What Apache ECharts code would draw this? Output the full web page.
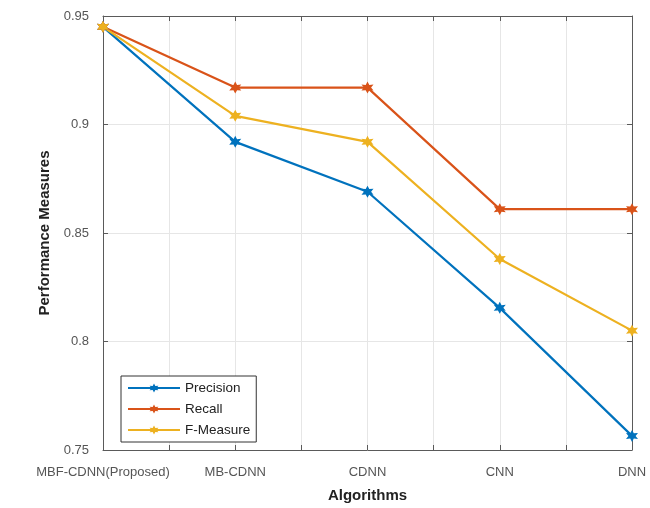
<!DOCTYPE html>
<html><head><meta charset="utf-8">
<script src="https://cdn.jsdelivr.net/npm/echarts@6/dist/echarts.min.js"></script>
<style>html,body{margin:0;padding:0;background:#fff}#c{width:650px;height:508px}</style>
</head><body><div id="c"></div>
<script>
const categories = ['MBF-CDNN(Proposed)', 'MB-CDNN', 'CDNN', 'CNN', 'DNN'];
const precision = [0.945, 0.892, 0.869, 0.8155, 0.7565];
const recall = [0.945, 0.917, 0.917, 0.861, 0.861];
const fmeasure = [0.945, 0.904, 0.892, 0.838, 0.805];
const yTicks = [0.75, 0.8, 0.85, 0.9, 0.95];

const star = 'path://M0,-10 L2.6,-4.5 L8.66,-5 L5.2,0 L8.66,5 L2.6,4.5 L0,10 L-2.6,4.5 L-8.66,5 L-5.2,0 L-8.66,-5 L-2.6,-4.5 Z';
function pts(arr){ return arr.map((v,i)=>[i+1, v]); }
const axisCol = '#5a5a5a';
const font = 'Liberation Sans, Arial, sans-serif';

const chart = echarts.init(document.getElementById('c'));
const mk = (name, data, color) => ({
  name, type:'line', data: pts(data), symbol: star, symbolSize: 12,
  lineStyle:{color, width:2.2}, itemStyle:{color}, z:3
});
chart.setOption({
  animation:false,
  grid:{left:103, right:18, top:16, bottom:55},
  xAxis:[{
    type:'value', min:1, max:5, interval:0.5,
    name:'Algorithms', nameLocation:'middle', nameGap:38,
    nameTextStyle:{fontFamily:font, fontWeight:'bold', fontSize:15, color:'#222'},
    axisLine:{lineStyle:{color:axisCol}},
    axisTick:{inside:true, length:5, lineStyle:{color:axisCol}},
    axisLabel:{margin:16, fontFamily:font, fontSize:13, color:'#555',
      formatter:v => Number.isInteger(v) ? categories[v-1] : ''},
    splitLine:{show:true, lineStyle:{color:'#e6e6e6'}}
  },{
    type:'value', position:'top', min:1, max:5, interval:0.5,
    axisLine:{show:true, lineStyle:{color:axisCol}},
    axisTick:{inside:true, length:5, lineStyle:{color:axisCol}},
    axisLabel:{show:false}, splitLine:{show:false}
  }],
  yAxis:[{
    type:'value', min:0.75, max:0.95, interval:0.05,
    name:'Performance Measures', nameLocation:'middle', nameGap:50,
    nameTextStyle:{fontFamily:font, fontWeight:'bold', fontSize:15, color:'#222'},
    axisLine:{show:true, lineStyle:{color:axisCol}},
    axisTick:{show:true, inside:true, length:5, lineStyle:{color:axisCol}},
    axisLabel:{margin:14, fontFamily:font, fontSize:13, color:'#555',
      formatter:v => { const t = yTicks.find(x=>Math.abs(x-v)<1e-9); return t===undefined?'':String(t); }},
    splitLine:{show:true, lineStyle:{color:'#e6e6e6'}}
  },{
    type:'value', position:'right', min:0.75, max:0.95, interval:0.05,
    axisLine:{show:true, lineStyle:{color:axisCol}},
    axisTick:{show:true, inside:true, length:5, lineStyle:{color:axisCol}},
    axisLabel:{show:false}, splitLine:{show:false}
  }],
  legend:{
    orient:'vertical', left:121, top:376, itemWidth:52, itemHeight:11, itemGap:7,
    padding:[5,6,5,6], borderColor:'#333', borderWidth:1, backgroundColor:'#fff',
    textStyle:{fontFamily:font, fontSize:13.5, color:'#222'},
    data:['Precision','Recall','F-Measure']
  },
  series:[
    mk('Precision', precision, '#0072BD'),
    mk('Recall', recall, '#D95319'),
    mk('F-Measure', fmeasure, '#EDB120')
  ]
});
</script></body></html>
